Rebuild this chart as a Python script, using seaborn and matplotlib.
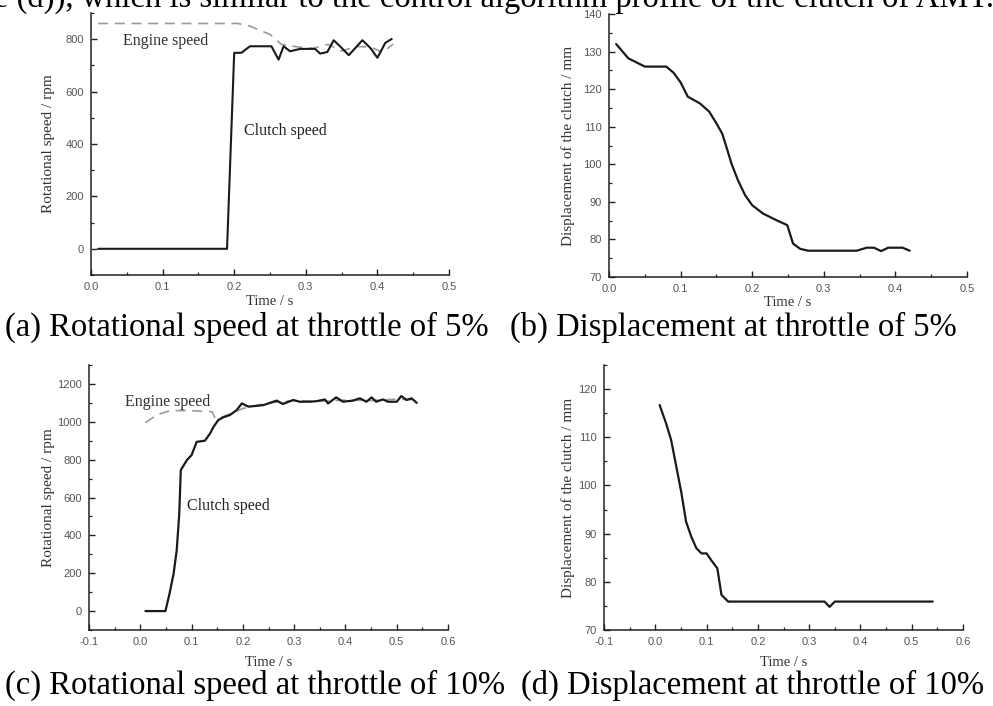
import matplotlib
matplotlib.use("Agg")
import matplotlib.pyplot as plt
import seaborn as sns
from matplotlib.ticker import MultipleLocator, FormatStrFormatter

# ---------------- data ----------------
# (a) throttle 5 %, rotational speed
t_a_clutch = [0.01, 0.19, 0.20, 0.21, 0.222, 0.252, 0.262, 0.269, 0.278, 0.292, 0.313, 0.320,
              0.330, 0.339, 0.350, 0.360, 0.379, 0.390, 0.400, 0.411, 0.420]
v_a_clutch = [0, 0, 748, 748, 773, 773, 722, 773, 754, 763, 763, 745,
              751, 796, 767, 739, 796, 767, 729, 786, 801]
t_a_engine = [0.01, 0.205, 0.222, 0.25, 0.266, 0.29, 0.31, 0.331, 0.35, 0.371, 0.39, 0.408, 0.422]
v_a_engine = [860, 860, 850, 818, 780, 770, 765, 780, 755, 772, 770, 750, 782]

# (b) throttle 5 %, clutch displacement
t_b = [0.01, 0.027, 0.05, 0.08, 0.09, 0.10, 0.11, 0.127, 0.14, 0.15, 0.158, 0.164, 0.171,
       0.18, 0.19, 0.20, 0.215, 0.234, 0.249, 0.257, 0.267, 0.278, 0.346, 0.36, 0.37, 0.38,
       0.39, 0.41, 0.42]
v_b = [132, 128.2, 126, 126, 124.4, 121.8, 118, 116.2, 114, 110.9, 108.2, 104.6, 100.2,
       95.8, 91.8, 89.1, 86.9, 85.1, 83.8, 78.9, 77.5, 77, 77, 77.8, 77.8, 76.9,
       77.8, 77.8, 77]

# (c) throttle 10 %, rotational speed
t_c_clutch = [0.01, 0.049, 0.057, 0.065, 0.071, 0.076, 0.079, 0.091, 0.10, 0.11, 0.126, 0.136,
              0.143, 0.152, 0.162, 0.175, 0.188, 0.198, 0.211, 0.24, 0.266, 0.278, 0.298, 0.311,
              0.331, 0.344, 0.36, 0.366, 0.382, 0.395, 0.415, 0.428, 0.441, 0.451, 0.46, 0.473,
              0.483, 0.50, 0.509, 0.519, 0.529, 0.539]
v_c_clutch = [0, 0, 92, 198, 321, 515, 745, 798, 824, 894, 900, 938,
              974, 1009, 1024, 1036, 1062, 1097, 1080, 1088, 1112, 1094, 1115, 1106,
              1106, 1109, 1118, 1097, 1129, 1106, 1112, 1124, 1106, 1129, 1106, 1118,
              1106, 1106, 1136, 1115, 1124, 1100]
t_c_engine = [0.01, 0.032, 0.058, 0.097, 0.14, 0.146, 0.16, 0.20, 0.25, 0.30, 0.35, 0.40, 0.45, 0.50, 0.54]
v_c_engine = [995, 1036, 1059, 1059, 1053, 1018, 1025, 1070, 1100, 1112, 1108, 1115, 1112, 1120, 1115]

# (d) throttle 10 %, clutch displacement
t_d = [0.0085, 0.021, 0.031, 0.041, 0.051, 0.06, 0.07, 0.08, 0.09, 0.10, 0.109, 0.121,
       0.129, 0.142, 0.33, 0.34, 0.35, 0.541]
v_d = [116.7, 112.9, 109.4, 103.9, 98.4, 92.5, 89.4, 87, 85.9, 85.9, 84.5, 82.8,
       77.3, 75.9, 75.9, 74.8, 75.9, 75.9]

captions = ["(a) Rotational speed at throttle of 5%", "(b) Displacement at throttle of 5%",
            "(c) Rotational speed at throttle of 10%", "(d) Displacement at throttle of 10%"]
top_text = "e (d)), which is similar to the control algorithm profile of the clutch of AMT."
xlabel = "Time / s"
ylabel_speed = "Rotational speed / rpm"
ylabel_disp = "Displacement of the clutch / mm"
engine_label = "Engine speed"
clutch_label = "Clutch speed"

# ---------------- style ----------------
sns.set_theme(style="white")
plt.rcParams["font.family"] = ["Liberation Serif", "DejaVu Serif"]
plt.rcParams["axes.unicode_minus"] = False

W, H = 993, 706
fig = plt.figure(figsize=(W / 100, H / 100), dpi=100)


def add_ax(left, right, top, bottom):
    return fig.add_axes([left / W, 1 - bottom / H, (right - left) / W, (bottom - top) / H])


ax_a = add_ax(91, 449, 13, 275)
ax_b = add_ax(609, 967, 14, 277)
ax_c = add_ax(89, 448, 365, 630)
ax_d = add_ax(604, 963, 365, 630)

BLACK = "#1a1a1a"
GREY = "#9a9a9a"

sns.lineplot(x=t_a_engine, y=v_a_engine, ax=ax_a, color=GREY, lw=1.2, sort=False,
             estimator=None, dashes=False, linestyle=(0, (6, 4)))
sns.lineplot(x=t_a_clutch, y=v_a_clutch, ax=ax_a, color=BLACK, lw=1.5, sort=False, estimator=None)
sns.lineplot(x=t_b, y=v_b, ax=ax_b, color=BLACK, lw=1.6, sort=False, estimator=None)
sns.lineplot(x=t_c_engine, y=v_c_engine, ax=ax_c, color=GREY, lw=1.2, sort=False,
             estimator=None, dashes=False, linestyle=(0, (6, 4)))
sns.lineplot(x=t_c_clutch, y=v_c_clutch, ax=ax_c, color=BLACK, lw=1.6, sort=False, estimator=None)
sns.lineplot(x=t_d, y=v_d, ax=ax_d, color=BLACK, lw=1.6, sort=False, estimator=None)

specs = [
    (ax_a, (0, 0.5), (-100, 900), 200, 100, ylabel_speed, -0.12, 27),
    (ax_b, (0, 0.5), (70, 140), 10, 5, ylabel_disp, -0.115, 25),
    (ax_c, (-0.1, 0.6), (-100, 1300), 200, 100, ylabel_speed, -0.114, 32),
    (ax_d, (-0.1, 0.6), (70, 125), 10, 5, ylabel_disp, -0.100, 32),
]
for ax, xl, yl, ymaj, ymin, ylab, ylx, tdist in specs:
    ax.set_xlim(*xl)
    ax.set_ylim(*yl)
    ax.xaxis.set_major_locator(MultipleLocator(0.1))
    ax.xaxis.set_minor_locator(MultipleLocator(0.05))
    ax.yaxis.set_major_locator(MultipleLocator(ymaj))
    ax.yaxis.set_minor_locator(MultipleLocator(ymin))
    ax.xaxis.set_major_formatter(FormatStrFormatter("%.1f"))
    ax.yaxis.set_major_formatter(FormatStrFormatter("%d"))
    for s in ["top", "right"]:
        ax.spines[s].set_visible(False)
    for s in ["left", "bottom"]:
        ax.spines[s].set_color("#222222")
        ax.spines[s].set_linewidth(1.1)
    ax.tick_params(which="major", direction="in", length=4.5, width=1.0, color="#222222",
                   labelsize=8, labelcolor="#555555", pad=5, left=True, bottom=True)
    ax.tick_params(which="minor", direction="in", length=2.5, width=0.9, color="#222222",
                   left=True, bottom=True)
    for lab in ax.get_xticklabels() + ax.get_yticklabels():
        lab.set_family(["Liberation Sans", "DejaVu Sans"])
    ax.set_xlabel(xlabel, fontsize=10.5, color="#333333", va="center")
    ax.set_ylabel(ylab, fontsize=11, color="#333333", va="center")
    bbox_h = ax.get_position().height * H
    ax.xaxis.set_label_coords(0.5, -tdist / bbox_h)
    ax.yaxis.set_label_coords(ylx, 0.5)
    ax.set_facecolor("white")

ax_a.text(0.0447, 792, engine_label, fontsize=11.5, color="#333333", va="center", ha="left")
ax_a.text(0.214, 450, clutch_label, fontsize=11.5, color="#222222", va="center", ha="left")
ax_c.text(-0.03, 1106, engine_label, fontsize=11.5, color="#333333", va="center", ha="left")
ax_c.text(0.091, 556, clutch_label, fontsize=11.5, color="#222222", va="center", ha="left")

cap_fs = 23.5
fig.text(5 / W, 1 - 336 / H, captions[0], fontsize=cap_fs, color="black", va="baseline", ha="left")
fig.text(510 / W, 1 - 336 / H, captions[1], fontsize=cap_fs, color="black", va="baseline", ha="left")
fig.text(5 / W, 1 - 694 / H, captions[2], fontsize=cap_fs, color="black", va="baseline", ha="left")
fig.text(521 / W, 1 - 694 / H, captions[3], fontsize=cap_fs, color="black", va="baseline", ha="left")
fig.text(-6 / W, 1 - 7 / H, top_text, fontsize=cap_fs, color="black", va="baseline", ha="left")

fig.savefig("out.png", dpi=100, facecolor="white")
